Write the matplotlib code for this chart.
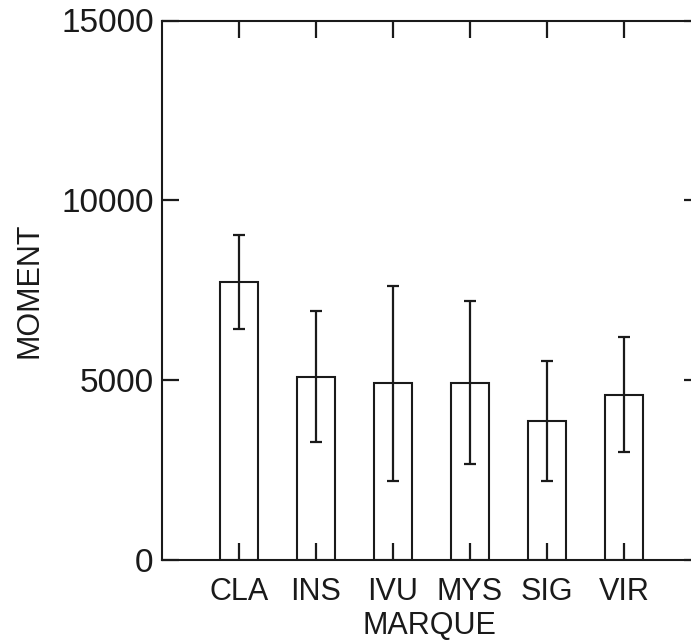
import matplotlib
matplotlib.use("Agg")
import matplotlib.pyplot as plt
import numpy as np

plt.rcParams['font.family'] = ['Liberation Sans', 'DejaVu Sans']

categories = ["CLA", "INS", "IVU", "MYS", "SIG", "VIR"]
means = [7730, 5100, 4910, 4935, 3870, 4595]
errors = [1300, 1815, 2705, 2265, 1660, 1605]
yticks = [0, 5000, 10000, 15000]

fig = plt.figure(figsize=(6.91, 6.44), dpi=100)
W, H = 691, 644
left_px, right_px, top_px, bot_px = 162, 701, 20.5, 560
ax = fig.add_axes([left_px / W, 1 - bot_px / H,
                   (right_px - left_px) / W, (bot_px - top_px) / H])
ax.set_axisbelow(False)

x = np.arange(len(categories))
ax.bar(x, means, width=0.5, facecolor='white', edgecolor='#1a1a1a',
       linewidth=1.5, zorder=2)
ax.errorbar(x, means, yerr=errors, fmt='none', ecolor='#1a1a1a',
            elinewidth=1.6, capsize=4, capthick=1.6, zorder=3)

ax.set_xlim(-1, len(categories))
ax.set_ylim(0, 15000)
ax.set_xticks(x)
ax.set_xticklabels(categories, fontsize=22)
ax.set_yticks(yticks)
ax.set_yticklabels([str(v) for v in yticks], fontsize=24)

ax.tick_params(axis='both', direction='in', length=12, width=1.6,
               color='#1a1a1a', labelcolor='#1a1a1a',
               top=True, right=True)
ax.tick_params(axis='y', pad=6)
ax.tick_params(axis='x', pad=12)

for s in ax.spines.values():
    s.set_linewidth(1.5)
    s.set_color('#1a1a1a')
    s.set_zorder(4)

ax_w = right_px - left_px
ax_h = bot_px - top_px
ax.set_ylabel("MOMENT", fontsize=22, color='#1a1a1a')
ax.set_xlabel("MARQUE", fontsize=22, color='#1a1a1a')
ax.yaxis.set_label_coords((30 - left_px) / ax_w, 0.5)
ax.xaxis.set_label_coords((429.5 - left_px) / ax_w, -(626 - bot_px) / ax_h)
ax.xaxis.label.set_va('center')
ax.yaxis.label.set_va('center')

fig.savefig("out.png", dpi=100, facecolor='white')
